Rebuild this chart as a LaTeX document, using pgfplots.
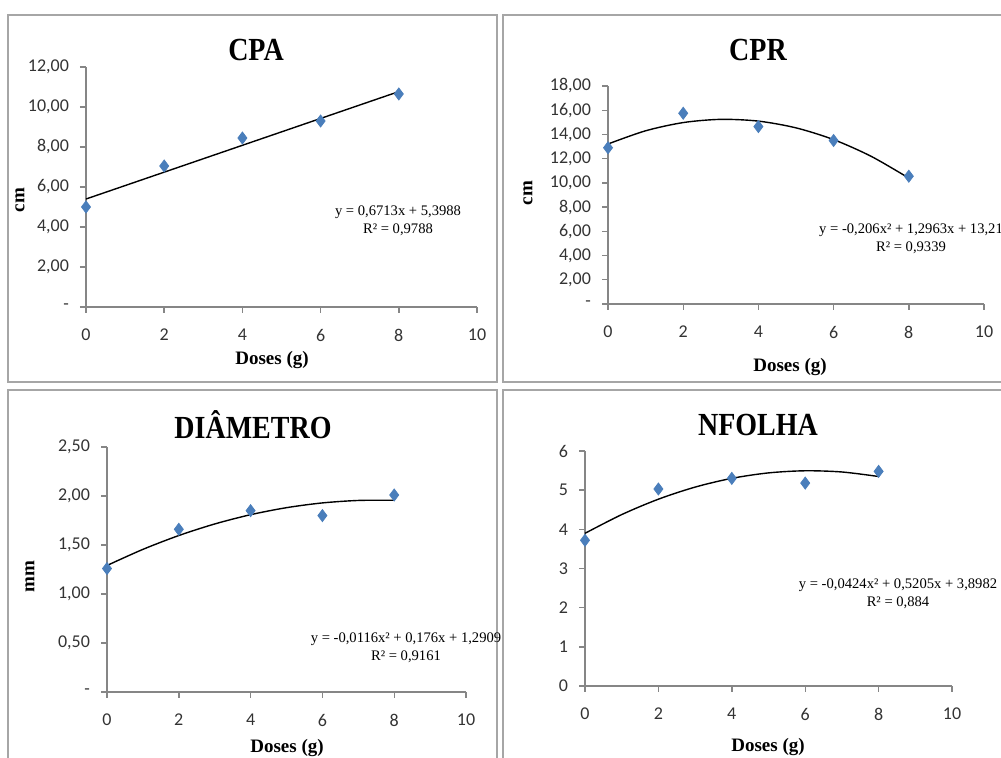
\documentclass[border=0pt]{standalone}
\usepackage{pgfplots}
\pgfplotsset{compat=1.18}
\usepackage{fontspec}
\setmainfont{Liberation Serif}
\newfontfamily\carlito{Carlito}
\definecolor{boxgray}{HTML}{A6A6A6}
\definecolor{axisgray}{HTML}{868686}
\definecolor{markblue}{HTML}{4A7EBB}
\begin{document}
\begin{tikzpicture}
\useasboundingbox (0,0) rectangle (500.5pt,379pt);
% panel frames
\draw[boxgray, line width=0.9pt] (4pt,188pt) rectangle (248.5pt,371.5pt);
\draw[boxgray, line width=0.9pt] (251.5pt,188pt) rectangle (510pt,371.5pt);
\draw[boxgray, line width=0.9pt] (4pt,-10pt) rectangle (248.5pt,184pt);
\draw[boxgray, line width=0.9pt] (251.5pt,-10pt) rectangle (510pt,184pt);
\pgfplotsset{myax/.style={scale only axis, axis lines*=left, tick align=outside,
  axis line style={axisgray, line width=0.7pt}, major tick style={axisgray, line width=0.7pt},
  major tick length=3pt, xmin=0, xmax=10, xtick={0,2,4,6,8,10}, xticklabels={0,2,4,6,8,10},
  ticklabel style={font=\carlito\fontsize{9}{10}\selectfont, text=black!80},
  xticklabel style={yshift=-4.5pt}, yticklabel style={xshift=-2pt},
  anchor=south west, clip=false},
  pts/.style={only marks, mark=diamond*, mark size=3pt, color=markblue},
  trend/.style={black, line width=0.7pt, smooth, mark=none}}
% CPA
\begin{axis}[myax, at={(43pt,225.5pt)}, width=195.5pt, height=120pt, ymin=0, ymax=12,
  ytick={0,2,4,6,8,10,12}, yticklabels={{-},{2,00},{4,00},{6,00},{8,00},{10,00},{12,00}}]
\addplot[pts] coordinates {(0,5.00) (2,7.05) (4,8.45) (6,9.30) (8,10.65)};
\addplot[trend] coordinates {(0,5.3988) (8,10.7692)};
\end{axis}
% CPR
\begin{axis}[myax, at={(304pt,227pt)}, width=188pt, height=109pt, ymin=0, ymax=18,
  ytick={0,2,4,6,8,10,12,14,16,18}, yticklabels={{-},{2,00},{4,00},{6,00},{8,00},{10,00},{12,00},{14,00},{16,00},{18,00}}]
\addplot[pts] coordinates {(0,12.90) (2,15.75) (4,14.65) (6,13.50) (8,10.55)};
\addplot[trend] coordinates {(0,13.21) (1,14.300) (2,14.979) (3,15.245) (4,15.099) (5,14.542) (6,13.572) (7,12.190) (8,10.396)};
\end{axis}
% DIAMETRO
\begin{axis}[myax, at={(53.5pt,33pt)}, width=179.5pt, height=122.5pt, ymin=0, ymax=2.5,
  ytick={0,0.5,1,1.5,2,2.5}, yticklabels={{-},{0,50},{1,00},{1,50},{2,00},{2,50}}]
\addplot[pts] coordinates {(0,1.26) (2,1.66) (4,1.85) (6,1.80) (8,2.01)};
\addplot[trend] coordinates {(0,1.2909) (1,1.4553) (2,1.5965) (3,1.7145) (4,1.8093) (5,1.8809) (6,1.9293) (7,1.9545) (8,1.9565)};
\end{axis}
% NFOLHA
\begin{axis}[myax, at={(292.5pt,36pt)}, width=183.5pt, height=117.5pt, ymin=0, ymax=6,
  ytick={0,1,2,3,4,5,6}, yticklabels={0,1,2,3,4,5,6}]
\addplot[pts] coordinates {(0,3.72) (2,5.03) (4,5.30) (6,5.18) (8,5.48)};
\addplot[trend] coordinates {(0,3.8982) (1,4.3763) (2,4.7696) (3,5.0781) (4,5.3018) (5,5.4407) (6,5.4948) (7,5.4641) (8,5.3486)};
\end{axis}
% titles
\tikzset{ttl/.style={font=\bfseries\fontsize{14}{16}\selectfont, yscale=1.15, transform shape},
  xl/.style={font=\bfseries\fontsize{9.5}{11}\selectfont},
  eq/.style={font=\fontsize{7.3}{9}\selectfont, align=center, inner sep=0pt}}
\node[ttl] at (128pt,354pt) {CPA};
\node[ttl] at (379pt,354pt) {CPR};
\node[ttl] at (126.5pt,166.5pt) {DIÂMETRO};
\node[ttl] at (379pt,166.5pt) {NFOLHA};
% axis labels
\node[xl] at (136pt,199pt) {Doses (g)};
\node[xl] at (395pt,195.5pt) {Doses (g)};
\node[xl] at (143.5pt,5pt) {Doses (g)};
\node[xl] at (384pt,5.5pt) {Doses (g)};
\node[xl, rotate=90] at (10pt,279pt) {cm};
\node[xl, rotate=90] at (264pt,282.5pt) {cm};
\node[xl, rotate=90] at (15pt,90.5pt) {mm};
% equations
\node[eq] at (199pt,268.5pt) {y = 0,6713x + 5,3988\\R² = 0,9788};
\node[eq] at (455.5pt,259.5pt) {y = -0,206x² + 1,2963x + 13,21\\R² = 0,9339};
\node[eq] at (203pt,55pt) {y = -0,0116x² + 0,176x + 1,2909\\R² = 0,9161};
\node[eq] at (449pt,82pt) {y = -0,0424x² + 0,5205x + 3,8982\\R² = 0,884};
\end{tikzpicture}
\end{document}
